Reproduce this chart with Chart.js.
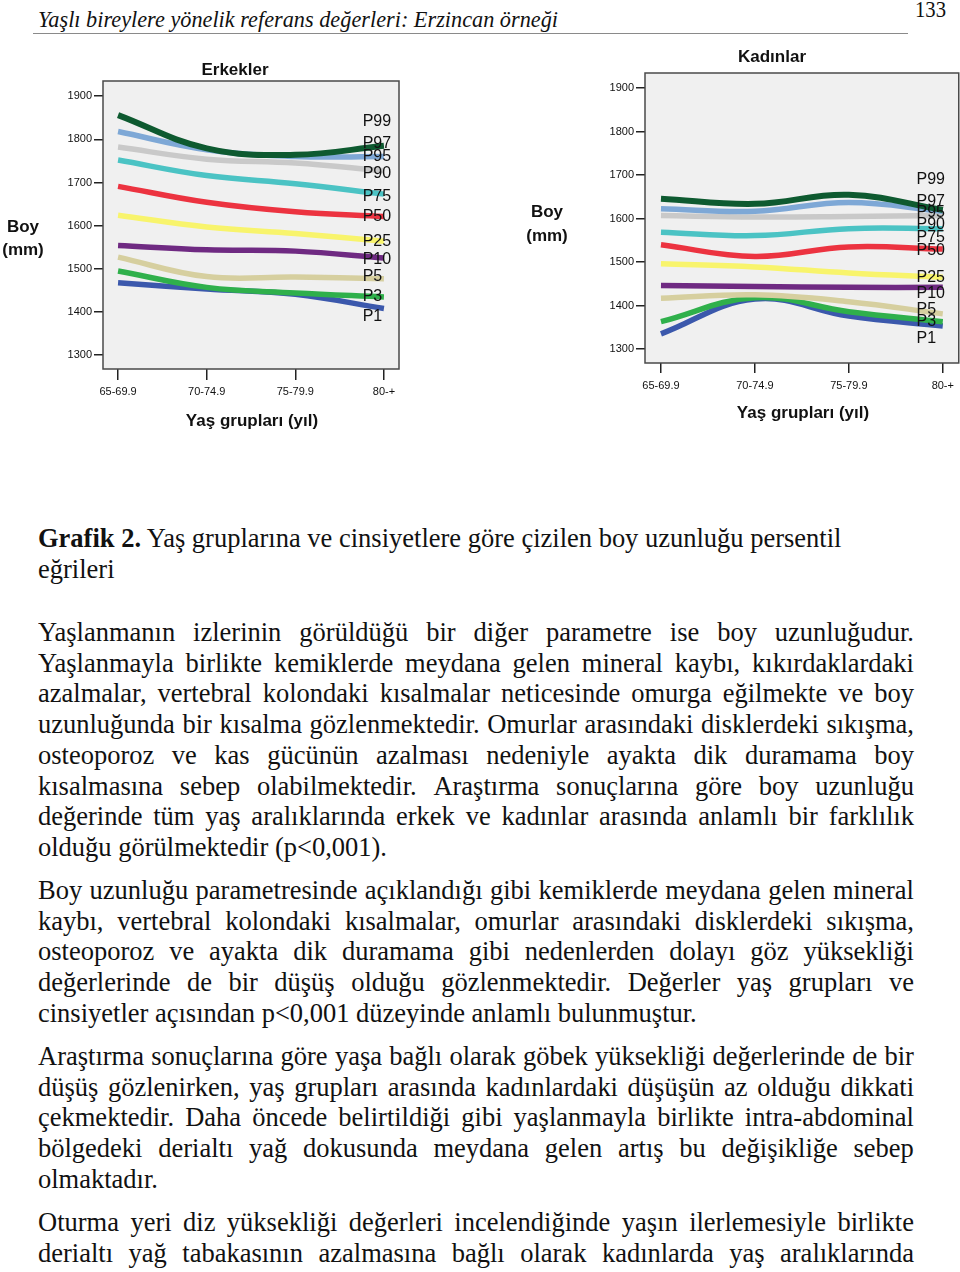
<!DOCTYPE html>
<html><head><meta charset="utf-8">
<script src="https://cdn.jsdelivr.net/npm/chart.js@4.4.1/dist/chart.umd.min.js"></script>
<style>
html,body{margin:0;padding:0;background:#fff;}
body{width:960px;height:1272px;position:relative;overflow:hidden;}
canvas{position:absolute;}
.ln{position:absolute;left:38px;white-space:nowrap;font-family:'Liberation Serif','Times New Roman',serif;font-size:28px;line-height:30.7px;color:#111;transform-origin:0 0;}
.jl{display:flex;justify-content:space-between;}
</style></head><body>
<div id="hdr" class="ln" style="font-style:italic;font-size:24px;top:4px">Yaşlı bireylere yönelik referans değerleri: Erzincan örneği</div>
<div id="pgno" class="ln" style="left:915px;font-size:23px;top:-5px">133</div>
<div style="position:absolute;left:33px;top:33px;width:875px;height:1px;background:#8a8a8a"></div>
<canvas id="cm" width="420" height="400" style="left:0;top:40px;width:420px;height:400px"></canvas>
<canvas id="cf" width="460" height="410" style="left:500px;top:30px;width:460px;height:410px"></canvas>
<div id="text"></div>
<script>
// ---------- DATA ----------
const ageGroups = ['65-69.9', '70-74.9', '75-79.9', '80-+'];
const yTickValues = [1300, 1400, 1500, 1600, 1700, 1800, 1900];
const percentileLabels = ['P99', 'P97', 'P95', 'P90', 'P75', 'P50', 'P25', 'P10', 'P5', 'P3', 'P1'];
const seriesNames = ['P97', 'P95', 'P90', 'P75', 'P50', 'P25', 'P10', 'P5', 'P3', 'P1'];

// Erkekler (men), height in mm
const maleP97 = [1856, 1779, 1764, 1785];
const maleP95 = [1818, 1776, 1760, 1760];
const maleP90 = [1782, 1754, 1745, 1727];
const maleP75 = [1752, 1716, 1697, 1673];
const maleP50 = [1691, 1654, 1632, 1621];
const maleP25 = [1624, 1597, 1582, 1564];
const maleP10 = [1554, 1544, 1541, 1525];
const maleP5  = [1527, 1482, 1481, 1477];
const maleP3  = [1495, 1457, 1444, 1435];
const maleP1  = [1468, 1453, 1441, 1408];
const maleLabelY = [1842, 1790, 1759, 1721, 1667, 1622, 1564, 1522, 1481, 1436, 1390];

// Kadınlar (women), height in mm
const femaleP97 = [1646, 1634, 1655, 1620];
const femaleP95 = [1623, 1617, 1637, 1617];
const femaleP90 = [1607, 1604, 1605, 1607];
const femaleP75 = [1569, 1561, 1577, 1577];
const femaleP50 = [1540, 1513, 1535, 1530];
const femaleP25 = [1496, 1489, 1475, 1465];
const femaleP10 = [1446, 1444, 1442, 1442];
const femaleP5  = [1417, 1425, 1409, 1381];
const femaleP3  = [1363, 1418, 1386, 1363];
const femaleP1  = [1335, 1415, 1376, 1353];
const femaleLabelY = [1690, 1639, 1613, 1586, 1556, 1526, 1465, 1427, 1390, 1363, 1324];

// ---------- STYLE ----------
const lineColors = ['#0e5a30', '#7ea8d6', '#c9c9c9', '#4bc3c4', '#ec3340', '#f8f46c', '#6f2a82', '#d6cf9f', '#2fb04b', '#3b58ac'];
const lineWidths = [6, 5.5, 5.5, 5.5, 5.5, 5.5, 5.5, 5.5, 5.5, 5.5];
const SANS = '"Liberation Sans", Arial, sans-serif';

const decor = {
  id: 'decor',
  beforeDatasetsDraw(chart) {
    const a = chart.chartArea, c = chart.ctx;
    c.save(); c.fillStyle = '#f0f0f0';
    c.fillRect(a.left, a.top, a.right - a.left, a.bottom - a.top);
    c.restore();
  },
  afterDatasetsDraw(chart, args, o) {
    const a = chart.chartArea, c = chart.ctx, xs = chart.scales.x, ys = chart.scales.y;
    c.save();
    c.strokeStyle = '#4a4a4a'; c.lineWidth = 1.5;
    c.strokeRect(a.left, a.top, a.right - a.left, a.bottom - a.top);
    c.fillStyle = '#111'; c.font = '16px ' + SANS; c.textAlign = 'left'; c.textBaseline = 'middle';
    o.labels.forEach((t, i) => c.fillText(t, xs.getPixelForValue(o.labelX), ys.getPixelForValue(o.labelY[i])));
    c.font = 'bold 17px ' + SANS; c.textAlign = 'center';
    o.texts.forEach(t => c.fillText(t.s, t.x, t.y));
    c.restore();
  }
};

function makeChart(id, series, labelY, g) {
  const datasets = series.map((vals, k) => ({
    label: seriesNames[k],
    data: vals.map((v, i) => ({ x: i, y: v })),
    borderColor: lineColors[k], borderWidth: lineWidths[k],
    pointRadius: 0, tension: 0.4, fill: false, borderCapStyle: 'butt'
  }));
  return new Chart(document.getElementById(id), {
    type: 'line',
    data: { datasets },
    plugins: [decor],
    options: {
      responsive: false, animation: false, devicePixelRatio: 1,
      layout: { padding: { left: 0, right: g.padRight, top: g.padTop, bottom: 0 } },
      plugins: {
        legend: { display: false }, tooltip: { enabled: false }, title: { display: false },
        decor: { labels: percentileLabels, labelY: labelY, labelX: g.labelX, texts: g.texts }
      },
      scales: {
        x: {
          type: 'linear', min: -0.17, max: 3.17,
          afterBuildTicks: s => { s.ticks = ageGroups.map((_, i) => ({ value: i })); },
          afterFit: s => { s.height = g.xAxisH; },
          ticks: { callback: v => ageGroups[v], font: { family: SANS, size: 11 }, color: '#111', padding: g.xPad, maxRotation: 0, autoSkip: false },
          grid: { drawOnChartArea: false, drawTicks: true, tickLength: g.xTick, color: '#222', lineWidth: 1.5 },
          border: { display: false }
        },
        y: {
          type: 'linear', min: 1268, max: 1935,
          afterBuildTicks: s => { s.ticks = yTickValues.map(v => ({ value: v })); },
          afterFit: s => { s.width = g.yAxisW; },
          ticks: { callback: v => String(v), font: { family: SANS, size: 11 }, color: '#111', padding: 2 },
          grid: { drawOnChartArea: false, drawTicks: true, tickLength: 9, color: '#222', lineWidth: 1.5 },
          border: { display: false }
        }
      }
    }
  });
}

makeChart('cm',
  [maleP97, maleP95, maleP90, maleP75, maleP50, maleP25, maleP10, maleP5, maleP3, maleP1],
  maleLabelY,
  { padRight: 21, padTop: 41, xAxisH: 71, yAxisW: 103, xTick: 11, xPad: 5, labelX: 2.76,
    texts: [{ s: 'Erkekler', x: 235, y: 30 }, { s: 'Boy', x: 23, y: 187 }, { s: '(mm)', x: 23, y: 210 }, { s: 'Yaş grupları (yıl)', x: 252, y: 381 }] });

makeChart('cf',
  [femaleP97, femaleP95, femaleP90, femaleP75, femaleP50, femaleP25, femaleP10, femaleP5, femaleP3, femaleP1],
  femaleLabelY,
  { padRight: 1, padTop: 43, xAxisH: 77, yAxisW: 145, xTick: 10, xPad: 6, labelX: 2.72,
    texts: [{ s: 'Kadınlar', x: 272, y: 27 }, { s: 'Boy', x: 47, y: 182 }, { s: '(mm)', x: 47, y: 206 }, { s: 'Yaş grupları (yıl)', x: 303, y: 383 }] });

// ---------- BODY TEXT ----------
const caption = ['Grafik 2.|Yaş gruplarına ve cinsiyetlere göre çizilen boy uzunluğu persentil', 'eğrileri'];
const para1 = [
  'Yaşlanmanın izlerinin görüldüğü bir diğer parametre ise boy uzunluğudur.',
  'Yaşlanmayla birlikte kemiklerde meydana gelen mineral kaybı, kıkırdaklardaki',
  'azalmalar, vertebral kolondaki kısalmalar neticesinde omurga eğilmekte ve boy',
  'uzunluğunda bir kısalma gözlenmektedir. Omurlar arasındaki disklerdeki sıkışma,',
  'osteoporoz ve kas gücünün azalması nedeniyle ayakta dik duramama boy',
  'kısalmasına sebep olabilmektedir. Araştırma sonuçlarına göre boy uzunluğu',
  'değerinde tüm yaş aralıklarında erkek ve kadınlar arasında anlamlı bir farklılık',
  'olduğu görülmektedir (p<0,001).'];
const para2 = [
  'Boy uzunluğu parametresinde açıklandığı gibi kemiklerde meydana gelen mineral',
  'kaybı, vertebral kolondaki kısalmalar, omurlar arasındaki disklerdeki sıkışma,',
  'osteoporoz ve ayakta dik duramama gibi nedenlerden dolayı göz yüksekliği',
  'değerlerinde de bir düşüş olduğu gözlenmektedir. Değerler yaş grupları ve',
  'cinsiyetler açısından p<0,001 düzeyinde anlamlı bulunmuştur.'];
const para3 = [
  'Araştırma sonuçlarına göre yaşa bağlı olarak göbek yüksekliği değerlerinde de bir',
  'düşüş gözlenirken, yaş grupları arasında kadınlardaki düşüşün az olduğu dikkati',
  'çekmektedir. Daha öncede belirtildiği gibi yaşlanmayla birlikte intra-abdominal',
  'bölgedeki derialtı yağ dokusunda meydana gelen artış bu değişikliğe sebep',
  'olmaktadır.'];
const para4 = [
  'Oturma yeri diz yüksekliği değerleri incelendiğinde yaşın ilerlemesiyle birlikte',
  'derialtı yağ tabakasının azalmasına bağlı olarak kadınlarda yaş aralıklarında'];

const host = document.getElementById('text');
const LH = 30.7, WIDTH = 876;
function mk(cls, top) { const d = document.createElement('div'); d.className = cls; d.style.top = top + 'px'; host.appendChild(d); return d; }
// horizontal scale derived from a reference line's width
const probe = mk('ln', -200); probe.textContent = para1[7];
const SX = 349 / probe.getBoundingClientRect().width; probe.remove();

function block(top, lines, mode) {
  lines.forEach((t, i) => {
    const justify = mode === 'none' ? false : (i < lines.length - 1 || mode === 'all');
    const d = mk(justify ? 'ln jl' : 'ln', top + i * LH);
    d.style.transform = 'scaleX(' + SX + ')';
    if (justify) {
      d.style.width = (WIDTH / SX) + 'px';
      t.split(' ').forEach(w => { const s = document.createElement('span'); s.textContent = w; d.appendChild(s); });
    } else if (t.indexOf('|') >= 0) {
      const [b, r] = t.split('|');
      const s = document.createElement('b'); s.textContent = b; d.appendChild(s);
      d.appendChild(document.createTextNode(' ' + r));
    } else d.textContent = t;
  });
}
block(523, caption, 'none');
block(617, para1, 'last-left');
block(875, para2, 'last-left');
block(1041, para3, 'last-left');
block(1207, para4, 'all');

function fitW(id, w) { const el = document.getElementById(id); el.style.transform = 'scaleX(' + (w / el.getBoundingClientRect().width) + ')'; }
fitW('hdr', 520); fitW('pgno', 31);
</script>
</body></html>
